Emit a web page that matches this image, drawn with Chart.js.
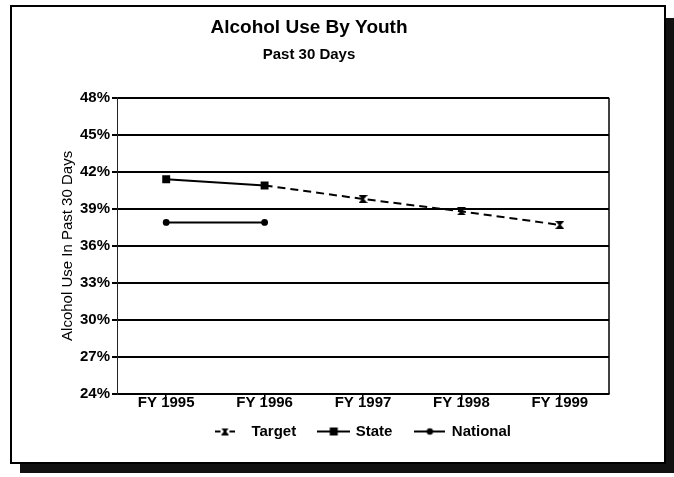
<!DOCTYPE html>
<html>
<head>
<meta charset="utf-8">
<title>Alcohol Use By Youth</title>
<script src="https://cdn.jsdelivr.net/npm/chart.js@4/dist/chart.umd.min.js"></script>
<style>
  html, body { margin: 0; padding: 0; background: #ffffff; }
  #wrap { position: relative; width: 674px; height: 477px; }
</style>
</head>
<body>
<div id="wrap"><canvas id="chart" width="674" height="477"></canvas></div>
<script>
// Fiscal years on the x axis
const categories = ['FY 1995', 'FY 1996', 'FY 1997', 'FY 1998', 'FY 1999'];

// Percent of youth reporting alcohol use in the past 30 days
const targetValues   = [null, 40.9, 39.8, 38.8, 37.7];
const stateValues    = [41.4, 40.9, null, null, null];
const nationalValues = [37.9, 37.9, null, null, null];

// Target markers are only drawn for the projected years
const targetMarkerRadius = [0, 0, 4, 4, 4];

// Value axis range and step
const yMin = 24;
const yMax = 48;
const yStep = 3;

const FONT = '"Liberation Sans", Arial, Helvetica, sans-serif';

// Hourglass-shaped "x" marker used by the Target series
function hourglassMarker(w, h) {
  const c = document.createElement('canvas');
  c.width = w; c.height = h;
  const g = c.getContext('2d');
  g.fillStyle = '#000';
  g.beginPath();
  g.moveTo(0, 0);
  g.lineTo(w, 0);
  g.lineTo(w / 2 + 1, h / 2);
  g.lineTo(w, h);
  g.lineTo(0, h);
  g.lineTo(w / 2 - 1, h / 2);
  g.closePath();
  g.fill();
  return c;
}

// Legend symbol: a short line with the series marker in its middle.
// alignLeft keeps a narrow symbol at the left edge of its canvas.
function legendIcon(canvasWidth, symbolWidth, marker, alignLeft) {
  const c = document.createElement('canvas');
  c.width = canvasWidth; c.height = 12;
  const g = c.getContext('2d');
  const x0 = alignLeft ? 0 : (canvasWidth - symbolWidth) / 2;
  g.strokeStyle = '#000';
  g.fillStyle = '#000';
  g.lineWidth = 2;
  g.beginPath();
  g.moveTo(x0, 6);
  g.lineTo(x0 + symbolWidth, 6);
  g.stroke();
  const cx = x0 + symbolWidth / 2;
  if (marker === 'hourglass') {
    g.fillStyle = '#fff';
    g.fillRect(cx - 4.5, 1, 9, 10);
    g.drawImage(hourglassMarker(8, 7), cx - 4, 2.5);
  } else if (marker === 'rect') {
    g.fillRect(cx - 4, 2, 8, 8);
  } else {
    g.beginPath();
    g.arc(cx, 6, 3.2, 0, Math.PI * 2);
    g.fill();
  }
  return c;
}

const targetMarker = hourglassMarker(9, 8);
const legendIcons = [
  legendIcon(29, 20, 'hourglass', true),
  legendIcon(33, 33, 'rect', false),
  legendIcon(31, 31, 'circle', false)
];

// Page frame with its drop shadow, and the right edge of the plot box
const framePlugin = {
  id: 'frame',
  beforeDraw(chart) {
    const ctx = chart.ctx;
    ctx.save();
    ctx.fillStyle = '#ffffff';
    ctx.fillRect(0, 0, chart.width, chart.height);
    ctx.fillStyle = '#111111';
    ctx.fillRect(20, 18, 654, 455);
    ctx.fillStyle = '#ffffff';
    ctx.fillRect(11, 6, 654, 457);
    ctx.strokeStyle = '#000000';
    ctx.lineWidth = 2;
    ctx.strokeRect(11, 6, 654, 457);
    ctx.restore();
  },
  afterDraw(chart) {
    const a = chart.chartArea;
    const ctx = chart.ctx;
    ctx.save();
    ctx.strokeStyle = '#000000';
    ctx.lineWidth = 1.5;
    ctx.beginPath();
    ctx.moveTo(a.right, a.top);
    ctx.lineTo(a.right, a.bottom);
    ctx.stroke();
    ctx.restore();
  }
};

// Placement of the titles and the legend
const LEGEND_CENTER_X = 363;
const LEGEND_TEXT_Y = 431.5;
const TITLE_CENTER_X = 309;

const placementPlugin = {
  id: 'placement',
  afterLayout(chart) {
    const shiftX = (box, center) => {
      const d = center - (box.left + box.right) / 2;
      box.left += d;
      box.right += d;
    };
    chart.boxes.forEach(b => {
      if (b.options && typeof b.options.text === 'string' && b.options.text.length) {
        shiftX(b, TITLE_CENTER_X);
      }
    });
    const lg = chart.legend;
    if (lg) {
      shiftX(lg, LEGEND_CENTER_X);
      const lab = lg.options.labels;
      const dy = LEGEND_TEXT_Y - (lg.top + lab.padding + lab.font.size / 2);
      lg.top += dy;
      lg.bottom += dy;
    }
  }
};

new Chart(document.getElementById('chart'), {
  type: 'line',
  data: {
    labels: categories,
    datasets: [
      {
        label: 'Target',
        data: targetValues,
        borderColor: '#000',
        backgroundColor: '#000',
        borderWidth: 2,
        borderDash: [8, 5],
        pointStyle: targetMarker,
        pointRadius: targetMarkerRadius,
        fill: false,
        tension: 0
      },
      {
        label: 'State',
        data: stateValues,
        borderColor: '#000',
        backgroundColor: '#000',
        borderWidth: 2,
        pointStyle: 'rect',
        pointRadius: 5.6,
        pointBorderWidth: 0,
        fill: false,
        tension: 0
      },
      {
        label: 'National',
        data: nationalValues,
        borderColor: '#000',
        backgroundColor: '#000',
        borderWidth: 2,
        pointStyle: 'circle',
        pointRadius: 3.4,
        pointBorderWidth: 0,
        fill: false,
        tension: 0
      }
    ]
  },
  options: {
    responsive: false,
    animation: false,
    layout: { padding: { top: 6, left: 55, right: 65, bottom: 15 } },
    plugins: {
      title: {
        display: true,
        text: 'Alcohol Use By Youth',
        color: '#000',
        font: { family: FONT, size: 19, weight: 'bold' },
        padding: { top: 10, bottom: 0 }
      },
      subtitle: {
        display: true,
        text: 'Past 30 Days',
        color: '#000',
        font: { family: FONT, size: 15, weight: 'bold' },
        padding: { top: 7, bottom: 34 }
      },
      legend: {
        display: true,
        position: 'bottom',
        labels: {
          usePointStyle: true,
          pointStyleWidth: 29,
          padding: 23,
          color: '#000',
          font: { family: FONT, size: 15, weight: 'bold' },
          generateLabels(chart) {
            return chart.data.datasets.map((ds, i) => ({
              text: ds.label,
              pointStyle: legendIcons[i],
              fillStyle: '#000',
              strokeStyle: '#000',
              fontColor: '#000',
              lineWidth: 0,
              hidden: false,
              datasetIndex: i
            }));
          }
        }
      },
      tooltip: { enabled: false }
    },
    scales: {
      x: {
        type: 'category',
        offset: true,
        afterFit(scale) { scale.height = 20; },
        grid: {
          display: true,
          drawOnChartArea: false,
          offset: false,
          tickLength: 6,
          color: '#000',
          lineWidth: 1.5
        },
        border: { display: true, color: '#000', width: 2 },
        ticks: {
          color: '#000',
          padding: -6,
          maxRotation: 0,
          font: { family: FONT, size: 15, weight: 'bold' }
        }
      },
      y: {
        min: yMin,
        max: yMax,
        afterFit(scale) { scale.width = 62; },
        grid: {
          color: '#000',
          lineWidth: 2,
          tickLength: 5
        },
        border: { display: true, color: '#222', width: 1 },
        ticks: {
          stepSize: yStep,
          color: '#000',
          padding: 2,
          font: { family: FONT, size: 15, weight: 'bold' },
          callback: v => v + '%'
        },
        title: {
          display: true,
          text: 'Alcohol Use In Past 30 Days',
          color: '#000',
          font: { family: FONT, size: 15 },
          padding: { top: 4, bottom: 4 }
        }
      }
    }
  },
  plugins: [framePlugin, placementPlugin]
});
</script>
</body>
</html>
